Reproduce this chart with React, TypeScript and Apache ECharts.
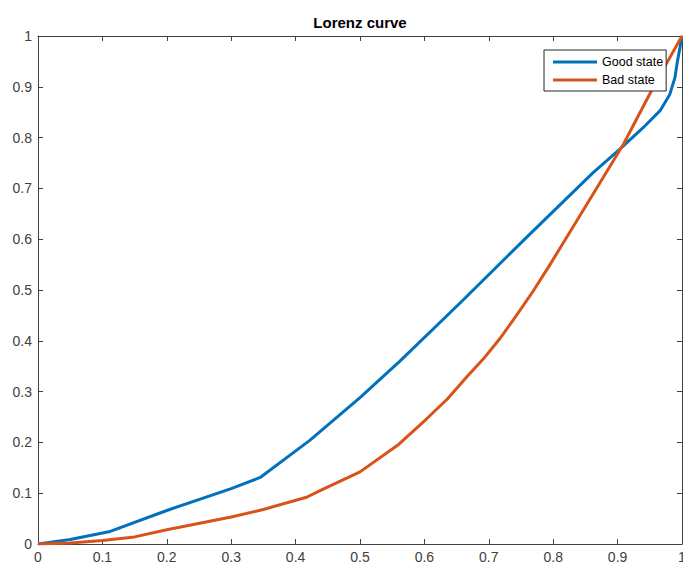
import React, { useEffect, useRef } from "react";
import * as echarts from "echarts";

// Cumulative population share (x) and cumulative wealth share (y)
const goodShare = [0, 0.05, 0.11, 0.2, 0.3, 0.345, 0.422, 0.5, 0.562, 0.655, 0.759, 0.862, 0.904, 0.94, 0.966, 0.981, 0.989, 0.993, 0.997, 1];
const goodWealth = [0, 0.009, 0.024, 0.066, 0.109, 0.131, 0.204, 0.288, 0.36, 0.474, 0.604, 0.731, 0.778, 0.82, 0.853, 0.885, 0.918, 0.951, 0.978, 1];

const badShare = [0, 0.05, 0.1, 0.15, 0.2, 0.3, 0.35, 0.417, 0.438, 0.5, 0.56, 0.604, 0.636, 0.666, 0.692, 0.717, 0.743, 0.769, 0.795, 0.821, 0.862, 0.909, 0.955, 0.98, 1];
const badWealth = [0, 0.002, 0.007, 0.014, 0.028, 0.053, 0.068, 0.092, 0.105, 0.142, 0.196, 0.247, 0.286, 0.329, 0.365, 0.404, 0.45, 0.498, 0.55, 0.604, 0.689, 0.787, 0.898, 0.955, 1];

const seriesNames = ["Good state", "Bad state"];
const seriesColors = ["#0072BD", "#D95319"];
const chartTitle = "Lorenz curve";

const FONT = "'Liberation Sans', Arial, Helvetica, sans-serif";
const AXIS_COLOR = "#404040";

const pairs = (xs: number[], ys: number[]) => xs.map((x, i) => [x, ys[i]]);

export default function App() {
  const ref = useRef<HTMLDivElement>(null);

  useEffect(() => {
    if (!ref.current) return;
    const chart = echarts.init(ref.current, null, { renderer: "svg" });

    const baseAxis = {
      type: "value" as const,
      min: 0,
      max: 1,
      interval: 0.1,
      splitLine: { show: false },
      axisLine: { show: true, onZero: false, lineStyle: { color: AXIS_COLOR, width: 1 } },
      axisTick: { show: true, inside: true, length: 5, lineStyle: { color: AXIS_COLOR } },
    };

    chart.setOption({
      animation: false,
      backgroundColor: "#ffffff",
      textStyle: { fontFamily: FONT },
      grid: { left: 38, right: 1, top: 36, bottom: 22, containLabel: false, outerBoundsMode: "none" },
      graphic: [
        {
          type: "text",
          x: 360,
          y: 22,
          style: {
            text: chartTitle,
            font: `bold 15px ${FONT}`,
            fill: "#000000",
            textAlign: "center",
            textVerticalAlign: "middle",
          },
        },
      ],
      legend: {
        orient: "vertical",
        left: 544,
        top: 50,
        data: seriesNames,
        icon: "rect",
        itemWidth: 44,
        itemHeight: 3,
        itemGap: 2,
        padding: [4, 3, 3, 9],
        borderColor: "#262626",
        borderWidth: 1,
        backgroundColor: "#ffffff",
        textStyle: { fontFamily: FONT, fontSize: 12.5, color: "#000000", lineHeight: 16 },
      },
      xAxis: [
        {
          ...baseAxis,
          position: "bottom",
          axisLabel: { color: AXIS_COLOR, fontSize: 14, fontFamily: FONT, margin: 6 },
        },
        {
          ...baseAxis,
          position: "top",
          axisLabel: { show: false },
        },
      ],
      yAxis: [
        {
          ...baseAxis,
          position: "left",
          axisLabel: { color: AXIS_COLOR, fontSize: 14, fontFamily: FONT, margin: 6 },
        },
        {
          ...baseAxis,
          position: "right",
          axisLabel: { show: false },
        },
      ],
      series: [
        {
          name: seriesNames[0],
          type: "line",
          data: pairs(goodShare, goodWealth),
          showSymbol: false,
          symbol: "none",
          color: seriesColors[0],
          lineStyle: { width: 3, color: seriesColors[0], join: "round" },
          xAxisIndex: 0,
          yAxisIndex: 0,
          z: 2,
        },
        {
          name: seriesNames[1],
          type: "line",
          data: pairs(badShare, badWealth),
          showSymbol: false,
          symbol: "none",
          color: seriesColors[1],
          lineStyle: { width: 3, color: seriesColors[1], join: "round" },
          xAxisIndex: 0,
          yAxisIndex: 0,
          z: 3,
        },
      ],
    });

    return () => chart.dispose();
  }, []);

  return (
    <div
      ref={ref}
      style={{ position: "fixed", left: 0, top: 0, width: 683, height: 566, background: "#fff" }}
    />
  );
}
